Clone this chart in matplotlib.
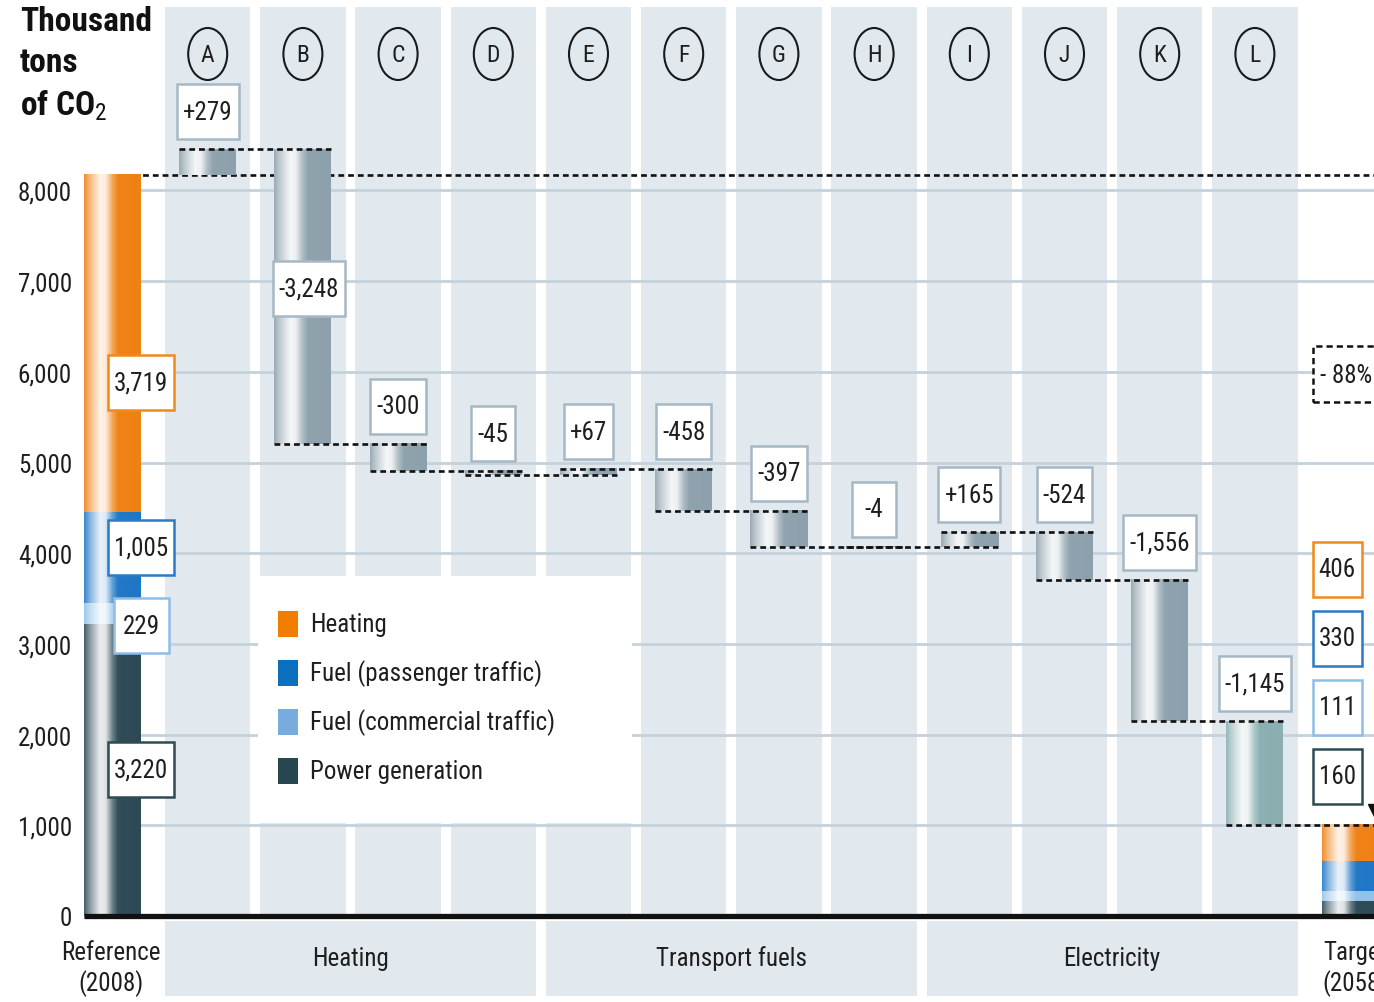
import numpy as np
import matplotlib
matplotlib.use("Agg")
import matplotlib.pyplot as plt
from matplotlib.patches import Rectangle, Ellipse
from matplotlib.colors import to_rgb
from matplotlib import font_manager

# ---------------------------------------------------------------- data
part_names = ["Power generation", "Fuel (commercial traffic)",
              "Fuel (passenger traffic)", "Heating"]          # stacked bottom-up
reference_values = [3220, 229, 1005, 3719]
target_values = [160, 111, 330, 406]
step_letters = ["A", "B", "C", "D", "E", "F", "G", "H", "I", "J", "K", "L"]
step_changes = [279, -3248, -300, -45, 67, -458, -397, -4, 165, -524, -1556, -1145]
step_labels = ["+279", "-3,248", "-300", "-45", "+67", "-458", "-397", "-4",
               "+165", "-524", "-1,556", "-1,145"]
sector_names = ["Heating", "Transport fuels", "Electricity"]
sector_first_step = [0, 4, 8]
sector_last_step = [3, 7, 11]
y_ticks = [0, 1000, 2000, 3000, 4000, 5000, 6000, 7000, 8000]
y_tick_labels = ["0", "1,000", "2,000", "3,000", "4,000", "5,000", "6,000", "7,000", "8,000"]
reduction_text = "- 88%"
end_labels = ["Reference\n(2008)", "Target\n(2058)"]
legend_order = ["Heating", "Fuel (passenger traffic)", "Fuel (commercial traffic)", "Power generation"]

# ---------------------------------------------------------------- fonts
def pick_font():
    for fam in ["Roboto Condensed", "Liberation Sans Narrow", "Open Sans Condensed",
                "Noto Sans Condensed"]:
        try:
            font_manager.findfont(font_manager.FontProperties(family=fam),
                                  fallback_to_default=False)
            return fam, "normal"
        except Exception:
            pass
    path = font_manager.findfont(font_manager.FontProperties(family="DejaVu Sans",
                                                             stretch="condensed"))
    if "Condensed" in path:
        return "DejaVu Sans", "condensed"
    return "Roboto", "normal"

FONT, STRETCH = pick_font()
plt.rcParams["font.family"] = [FONT, "DejaVu Sans"]
plt.rcParams["font.stretch"] = STRETCH
plt.rcParams["mathtext.fontset"] = "custom"
plt.rcParams["mathtext.rm"] = FONT
plt.rcParams["mathtext.it"] = FONT
plt.rcParams["mathtext.bf"] = FONT + ":bold"

part_colors = {"Heating": "#ef8013", "Fuel (passenger traffic)": "#1e76c6",
               "Fuel (commercial traffic)": "#92c1ea", "Power generation": "#2d4955"}
legend_colors = {"Heating": "#f07d00", "Fuel (passenger traffic)": "#0b6fbf",
                 "Fuel (commercial traffic)": "#78acdf", "Power generation": "#284650"}
edge_colors = {"Heating": "#f08a1c", "Fuel (passenger traffic)": "#2a7bc5",
               "Fuel (commercial traffic)": "#8fbde8", "Power generation": "#2f4a55"}
STEP_COLOR = "#8da1ac"
LAST_STEP_COLOR = "#8aaeb1"
STEP_EDGE = "#a6b8c5"
BAND = "#e2e9ee"
GRID = "#c4d2dc"
TXT = "#1e1e1e"
FS = 18

W, H, DPI = 1374, 1003, 100
BASE_PX = 917.0          # pixel row of the zero line
PX_PER_K = 90.7          # pixels per 1000 t
PITCH = 95.2             # pixels between columns
X0_PX = 112.5            # pixel centre of the first column
AX_LEFT_PX = 84

def dy(px):   # vertical pixel distance -> data units
    return px / PX_PER_K * 1000.0

def dx(px):   # horizontal pixel distance -> data units
    return px / PITCH

def ypx(py):  # pixel row -> data value
    return (BASE_PX - py) / PX_PER_K * 1000.0

def xpx(px):  # pixel column -> data x
    return (px - X0_PX) / PITCH

fig = plt.figure(figsize=(W / DPI, H / DPI), dpi=DPI)
ax = fig.add_axes([AX_LEFT_PX / W, 0, 1 - AX_LEFT_PX / W, 1])
XLIM = (xpx(AX_LEFT_PX), xpx(W))
YLIM = (ypx(H), ypx(0))

BAR_W = dx(57)
BAND_W = dx(85.5)
n_steps = len(step_changes)
step_x = np.arange(1, n_steps + 1)
target_x = n_steps + 1


def shaded_bar(xc, y0, y1, color, z=3, width=BAR_W):
    """Cylinder-like bar: highlight stripe left of centre."""
    t = np.linspace(0, 1, 80)
    w = np.interp(t, [0, 0.1, 0.28, 0.38, 0.5, 0.6, 1.0],
                     [0.12, 0.45, 0.9, 0.85, 0.3, 0.02, 0.0])
    base = np.array(to_rgb(color))
    rgb = base[None, :] * (1 - w[:, None]) + w[:, None]
    ax.imshow(rgb[None, :, :], extent=[xc - width / 2, xc + width / 2,
                                       min(y0, y1), max(y0, y1)],
              aspect="auto", interpolation="bilinear", zorder=z)


# ---------------------------------------------------------------- background bands
band_top = ypx(8)
for x in step_x:
    ax.add_patch(Rectangle((x - BAND_W / 2, 0), BAND_W, band_top - 0,
                           facecolor=BAND, edgecolor="none", zorder=0.1))

# sector bands under the axis line
for name, a, b in zip(sector_names, sector_first_step, sector_last_step):
    x_lo = step_x[a] - BAND_W / 2
    x_hi = step_x[b] + BAND_W / 2
    ax.add_patch(Rectangle((x_lo, ypx(997)), x_hi - x_lo, ypx(922) - ypx(997),
                           facecolor=BAND, edgecolor="none", zorder=0.1, clip_on=False))
    ax.text((x_lo + x_hi) / 2, ypx(959), name, ha="center", va="center",
            fontsize=FS, color=TXT)

# grid
ax.set_yticks(y_ticks)
ax.set_yticklabels(y_tick_labels)
ax.tick_params(axis="y", length=0, pad=8.6, labelsize=FS, labelcolor=TXT)
ax.set_xticks([])
ax.grid(axis="y", color=GRID, linewidth=2.0)
ax.set_axisbelow(True)
for s in ax.spines.values():
    s.set_visible(False)

# ---------------------------------------------------------------- reference bar
bottom = 0
ref_total = sum(reference_values)
for name, v in zip(part_names, reference_values):
    shaded_bar(0, bottom, bottom + v, part_colors[name])
    bottom += v

# ---------------------------------------------------------------- steps
levels = [ref_total]
for c in step_changes:
    levels.append(levels[-1] + c)

DASH = dict(color="#111111", linewidth=1.9, linestyle=(0, (2.2, 1.5)))

# reference level line across the whole chart
ax.plot([0 - BAR_W / 2, XLIM[1] + 1], [ref_total, ref_total], zorder=2.5, **DASH)

for i, c in enumerate(step_changes):
    x = step_x[i]
    y0, y1 = levels[i], levels[i + 1]
    col = LAST_STEP_COLOR if i == n_steps - 1 else STEP_COLOR
    if abs(c) >= 1:
        shaded_bar(x, y0, y1, col)
    # connector from this bar to the next
    x_end = x + 1 + BAR_W / 2 if i < n_steps - 1 else XLIM[1] + 1
    ax.plot([x - BAR_W / 2, x_end], [y1, y1], zorder=4, **DASH)

# ---------------------------------------------------------------- target bar
bottom = 0
for name, v in zip(part_names, target_values):
    shaded_bar(target_x, bottom, bottom + v, part_colors[name])
    bottom += v
target_total = bottom

# ---------------------------------------------------------------- legend panel
ax.add_patch(Rectangle((xpx(258), 1030), xpx(632) - xpx(258), ypx(577) - 1030,
                       facecolor="white", edgecolor="none", zorder=1))
for k, name in enumerate(legend_order):
    yc = ypx(625 + 49 * k)
    ax.add_patch(Rectangle((xpx(278), yc - dy(13)), dx(20), dy(26),
                           facecolor=legend_colors[name], edgecolor="none", zorder=2))
    ax.text(xpx(310), yc, name, ha="left", va="center", fontsize=FS, color=TXT, zorder=2)

# ---------------------------------------------------------------- letter markers
for x, letter in zip(step_x, step_letters):
    ax.add_patch(Ellipse((x, ypx(55)), dx(39), dy(52), facecolor="none",
                         edgecolor="#1a1a1a", linewidth=1.5, zorder=3))
    ax.text(x, ypx(56), letter, ha="center", va="center", fontsize=17, color=TXT, zorder=3)

# ---------------------------------------------------------------- value boxes
fig.canvas.draw()
renderer = fig.canvas.get_renderer()


def boxed_label(x, y, text, edge, min_w=44, fixed_w=None, lw=1.8):
    t = ax.text(x, y, text, ha="center", va="center", fontsize=FS, color=TXT, zorder=6)
    bb = t.get_window_extent(renderer)
    w_px = max(fixed_w or min_w, bb.width + 12)
    ax.add_patch(Rectangle((x - dx(w_px) / 2, y - dy(27.5)), dx(w_px), dy(55),
                           facecolor="white", edgecolor=edge, linewidth=lw, zorder=5))
    return t


# reference components (label offsets keep the small boxes apart)
bottom = 0
ref_label_offsets = [0, -dy(12), dy(10), -dy(39)]
for name, v, off in zip(part_names, reference_values, ref_label_offsets):
    boxed_label(BAR_W / 2, bottom + v / 2 + off, f"{v:,}", edge_colors[name], fixed_w=55)
    bottom += v

# step changes
for i, (c, lab) in enumerate(zip(step_changes, step_labels)):
    x = step_x[i]
    top = max(levels[i], levels[i + 1])
    if abs(c) > 3000:
        y = top - dy(139)
        x_lab = x + dx(6)
    else:
        y = top + dy(10 + 27.5)
        x_lab = x
    boxed_label(x_lab, y, lab, STEP_EDGE)

# target components, stacked above the bar
lab_x = target_x - dx(13)
for k, (name, v) in enumerate(zip(part_names, target_values)):
    y = target_total + dy(21 + 27.5 + 69 * k)
    boxed_label(lab_x, y, f"{v:,}", edge_colors[name], fixed_w=47)

# overall reduction
ax.add_patch(Rectangle((xpx(1313), ypx(403)), dx(120), dy(56), facecolor="white",
                       edgecolor="#111111", linewidth=1.8, linestyle=(0, (2.5, 1.6)),
                       zorder=5, clip_on=False))
ax.text(xpx(1320), ypx(376), reduction_text, ha="left", va="center", fontsize=FS,
        color=TXT, zorder=6)
ax.plot([xpx(1377)], [target_total + dy(12)], marker="v", markersize=13,
        color="#111111", zorder=6, clip_on=False)

# zero line
ax.plot([XLIM[0], XLIM[1] + 1], [0, 0], color="#111111", linewidth=3.8,
        zorder=7, solid_capstyle="butt")

# column end labels
ax.text(0 - dx(2), ypx(969), end_labels[0], ha="center", va="center", fontsize=FS,
        color=TXT, linespacing=1.25, clip_on=False)
ax.text(target_x + dx(5), ypx(969), end_labels[1], ha="center", va="center",
        fontsize=FS, color=TXT, linespacing=1.25)

# axis title
fig.text(20 / W, 1 - 6 / H, "Thousand\ntons\nof CO$_2$", ha="left", va="top",
         fontsize=24, color="#111111", fontweight="semibold", linespacing=1.35)

ax.set_xlim(*XLIM)
ax.set_ylim(*YLIM)
fig.savefig("out.png", dpi=DPI, facecolor="white")
